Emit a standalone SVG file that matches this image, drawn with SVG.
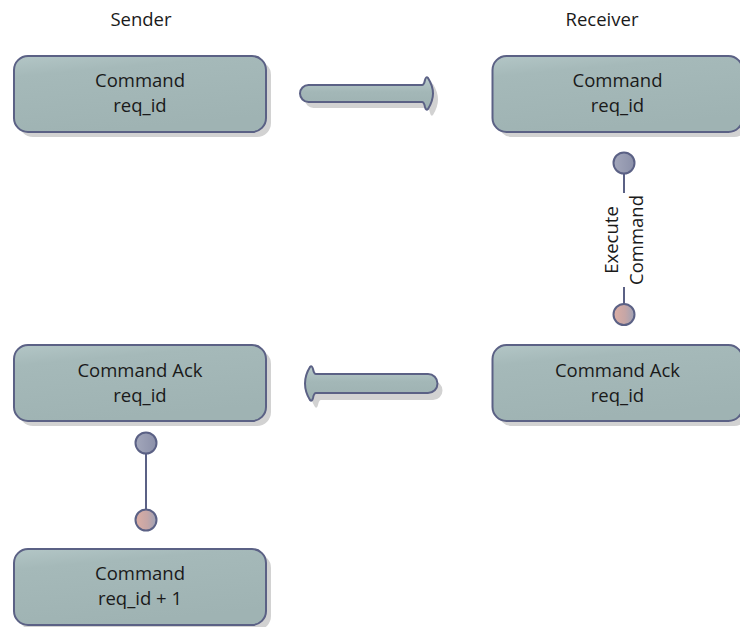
<svg xmlns="http://www.w3.org/2000/svg" width="740" height="627" viewBox="0 0 740 627">
<defs>
<linearGradient id="boxg" x1="0" y1="0" x2="0.3" y2="1">
<stop offset="0" stop-color="#b3c6c6"/>
<stop offset="0.25" stop-color="#a5b9b9"/>
<stop offset="1" stop-color="#9fb3b3"/>
</linearGradient>
<linearGradient id="arrg" x1="0" y1="0" x2="0" y2="1">
<stop offset="0" stop-color="#b9cbcb"/>
<stop offset="0.45" stop-color="#a3b7b7"/>
<stop offset="1" stop-color="#9db1b1"/>
</linearGradient>
<linearGradient id="topc" x1="0" y1="0" x2="1" y2="0">
<stop offset="0" stop-color="#a3a7bb"/>
<stop offset="1" stop-color="#8b90a9"/>
</linearGradient>
<linearGradient id="botc" x1="0" y1="0" x2="1" y2="0">
<stop offset="0" stop-color="#dcaea4"/>
<stop offset="0.55" stop-color="#c6a6a6"/>
<stop offset="1" stop-color="#9ea2b6"/>
</linearGradient>
</defs>
<style>
.shadow{fill:#d2d2d2}
.box{fill:url(#boxg);stroke:#5b6185;stroke-width:2}
.arrow{fill:url(#arrg);stroke:#5b6185;stroke-width:2}
.t{font-family:"Open Sans","DejaVu Sans",sans-serif;font-size:18.5px;fill:#1a1a1a;text-anchor:middle}
.lbl{font-family:"Open Sans","DejaVu Sans",sans-serif;font-size:18.5px;fill:#1a1a1a;text-anchor:middle}
.ln{stroke:#5b6185;stroke-width:2;fill:none}
.c1{fill:url(#topc);stroke:#5b6185;stroke-width:2}
.c2{fill:url(#botc);stroke:#5b6185;stroke-width:2}
</style>
<g id="header-sender"><text class="lbl" x="141" y="26">Sender</text></g>
<g id="header-receiver"><text class="lbl" x="602" y="26">Receiver</text></g>

<g id="connectors">
<g id="arrow-send">
<path class="shadow" transform="translate(5,6)" d="M308.5 85 L422 85 Q424 85 425 80 Q426 76 428 78 Q433 86 433 93.5 Q433 101 428 109 Q426 111 425 107 Q424 102 422 102 L308.5 102 A8.5 8.5 0 0 1 308.5 85 Z"/>
<path class="arrow" d="M308.5 85 L422 85 Q424 85 425 80 Q426 76 428 78 Q433 86 433 93.5 Q433 101 428 109 Q426 111 425 107 Q424 102 422 102 L308.5 102 A8.5 8.5 0 0 1 308.5 85 Z"/>
</g>
<g id="arrow-ack">
<path class="shadow" transform="translate(5,7)" d="M428 374 L316 374 Q314 374 313 369 Q312 365 310 367 Q305 375 305 383.5 Q305 392 310 400 Q312 402 313 398 Q314 393 316 393 L428 393 A9.5 9.5 0 0 0 428 374 Z"/>
<path class="arrow" d="M428 374 L316 374 Q314 374 313 369 Q312 365 310 367 Q305 375 305 383.5 Q305 392 310 400 Q312 402 313 398 Q314 393 316 393 L428 393 A9.5 9.5 0 0 0 428 374 Z"/>
</g>
<g id="link-execute">
<line class="ln" x1="624" y1="173" x2="624" y2="193"/>
<line class="ln" x1="624" y1="287" x2="624" y2="304"/>
<circle class="c1" cx="624" cy="163" r="10.5"/>
<circle class="c2" cx="624" cy="314.5" r="10.5"/>
<text class="t" transform="translate(624,240) rotate(-90)"><tspan x="0" y="-6">Execute</tspan><tspan x="0" y="19">Command</tspan></text>
</g>
<g id="link-next">
<line class="ln" x1="146" y1="453" x2="146" y2="510"/>
<circle class="c1" cx="146" cy="443" r="10.5"/>
<circle class="c2" cx="146" cy="520" r="10.5"/>
</g>
</g>

<g id="sender-command">
<rect class="shadow" x="19" y="61" width="252" height="76" rx="14"/>
<rect class="box" x="14" y="56" width="252" height="76" rx="14"/>
<text class="t" x="140" y="87">Command</text>
<text class="t" x="140" y="112">req_id</text>
</g>
<g id="receiver-command">
<rect class="shadow" x="498" y="61" width="250" height="76" rx="14"/>
<rect class="box" x="492.5" y="56" width="250" height="76" rx="14"/>
<text class="t" x="617.5" y="87">Command</text>
<text class="t" x="617.5" y="112">req_id</text>
</g>
<g id="receiver-ack">
<rect class="shadow" x="498" y="350" width="250" height="76" rx="14"/>
<rect class="box" x="492.5" y="345" width="250" height="76" rx="14"/>
<text class="t" x="617.5" y="377">Command Ack</text>
<text class="t" x="617.5" y="402">req_id</text>
</g>
<g id="sender-ack">
<rect class="shadow" x="19" y="350" width="252" height="76" rx="14"/>
<rect class="box" x="14" y="345" width="252" height="76" rx="14"/>
<text class="t" x="140" y="377">Command Ack</text>
<text class="t" x="140" y="402">req_id</text>
</g>
<g id="sender-next">
<rect class="shadow" x="19" y="554" width="252" height="76" rx="14"/>
<rect class="box" x="14" y="549" width="252" height="76" rx="14"/>
<text class="t" x="140" y="580">Command</text>
<text class="t" x="140" y="605">req_id + 1</text>
</g>
</svg>
